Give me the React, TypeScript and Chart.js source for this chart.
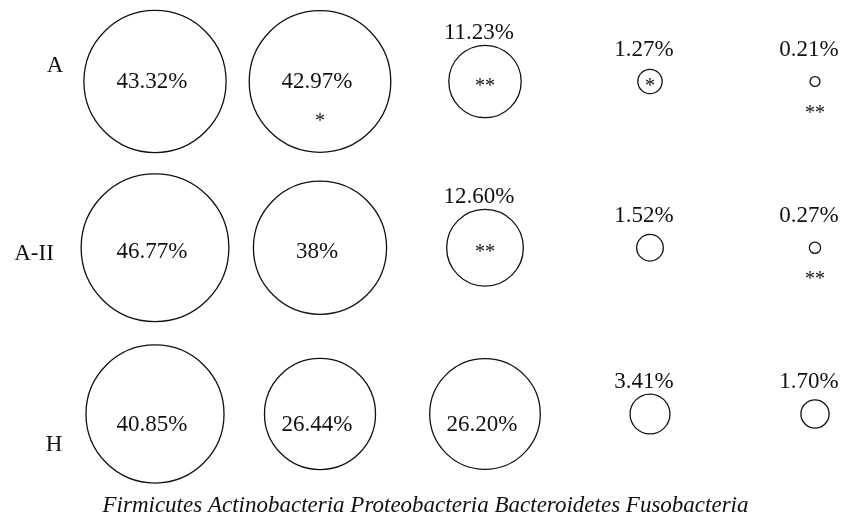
import React, { useEffect, useRef } from "react";
import { Chart, registerables, BubbleController } from "chart.js";

// Bubble controller that does not enlarge the layout padding for big bubbles,
// so the plot grid can be placed exactly through layout padding.
class PlainBubbleController extends (BubbleController as any) {
  getMaxOverflow() {
    return false;
  }
}
(PlainBubbleController as any).id = "plainBubble";
(PlainBubbleController as any).defaults = (BubbleController as any).defaults;
(PlainBubbleController as any).overrides = (BubbleController as any).overrides;

Chart.register(...registerables, PlainBubbleController as any);

// ---- data ----
const groups = ["A", "A-II", "H"];
const phyla = ["Firmicutes", "Actinobacteria", "Proteobacteria", "Bacteroidetes", "Fusobacteria"];

const valuesA = [43.32, 42.97, 11.23, 1.27, 0.21];
const valuesA2 = [46.77, 38, 12.6, 1.52, 0.27];
const valuesH = [40.85, 26.44, 26.2, 3.41, 1.7];

const labelsA = ["43.32%", "42.97%", "11.23%", "1.27%", "0.21%"];
const labelsA2 = ["46.77%", "38%", "12.60%", "1.52%", "0.27%"];
const labelsH = ["40.85%", "26.44%", "26.20%", "3.41%", "1.70%"];

const sigA = ["", "*", "**", "*", "**"];
const sigA2 = ["", "", "**", "", "**"];
const sigH = ["", "", "", "", ""];

const rowValues = [valuesA, valuesA2, valuesH];
const rowLabels = [labelsA, labelsA2, labelsH];
const rowSig = [sigA, sigA2, sigH];

// ---- style ----
const FONT = "'Liberation Serif', 'Times New Roman', serif";
const RADIUS_K = 10.8; // bubble area proportional to value
const INK = "#111";
const rowLabelStyle = [
  { x: 55, dy: -9.5 },
  { x: 34, dy: 12 },
  { x: 54, dy: 37 },
];
const insideLabelDy = [6, 10, 17];

const labelPlugin = {
  id: "bubbleLabels",
  afterDatasetsDraw(chart: any) {
    const { ctx } = chart;
    const ys = chart.scales.y;
    ctx.save();
    ctx.fillStyle = INK;
    ctx.textAlign = "center";
    ctx.textBaseline = "alphabetic";

    rowValues.forEach((_vals, ri) => {
      const meta = chart.getDatasetMeta(ri);
      meta.data.forEach((el: any, ci: number) => {
        const { x, y } = el.getProps(["x", "y"], true);
        const r = el.options.radius;
        const text = rowLabels[ri][ci];
        ctx.font = `23px ${FONT}`;
        if (r > 45) {
          ctx.fillText(text, x - 3, y + insideLabelDy[ri]);
        } else {
          ctx.fillText(text, x - 6, y - Math.max(r, 20) - 6);
        }
        const s = rowSig[ri][ci];
        if (s) {
          ctx.font = `20px ${FONT}`;
          let cy: number;
          if (r > 45) cy = y + 35.5;
          else if (r >= 10) cy = y;
          else cy = y + 27;
          ctx.fillText(s, x, cy + 10);
        }
      });

      const st = rowLabelStyle[ri];
      ctx.font = `23px ${FONT}`;
      ctx.fillText(groups[ri], st.x, ys.getPixelForValue(ri) + st.dy);
    });

    ctx.font = `italic 23px ${FONT}`;
    ctx.fillText(phyla.join(" "), chart.width / 2 + 4, chart.height - 10);
    ctx.restore();
  },
};

export default function App() {
  const ref = useRef<HTMLCanvasElement | null>(null);

  useEffect(() => {
    if (!ref.current) return;
    const datasets = rowValues.map((vals, ri) => ({
      label: groups[ri],
      data: vals.map((v, ci) => ({ x: ci, y: ri, r: RADIUS_K * Math.sqrt(v) })),
      backgroundColor: "rgba(255,255,255,0)",
      borderColor: INK,
      borderWidth: 1.3,
      hoverBorderWidth: 1.3,
      clip: false as any,
    }));

    const chart = new Chart(ref.current, {
      type: "plainBubble" as any,
      data: { datasets },
      options: {
        responsive: false,
        animation: false,
        events: [],
        layout: { padding: { left: 155, right: 28, top: 81.5, bottom: 108 } },
        plugins: {
          legend: { display: false },
          tooltip: { enabled: false },
        },
        scales: {
          x: { type: "linear", min: 0, max: phyla.length - 1, display: false },
          y: { type: "linear", min: 0, max: groups.length - 1, reverse: true, display: false },
        },
      } as any,
      plugins: [labelPlugin],
    });
    return () => chart.destroy();
  }, []);

  return (
    <div style={{ position: "absolute", left: 0, top: 0, width: 843, height: 522, background: "#fff" }}>
      <canvas ref={ref} width={843} height={522} style={{ display: "block" }} />
    </div>
  );
}
